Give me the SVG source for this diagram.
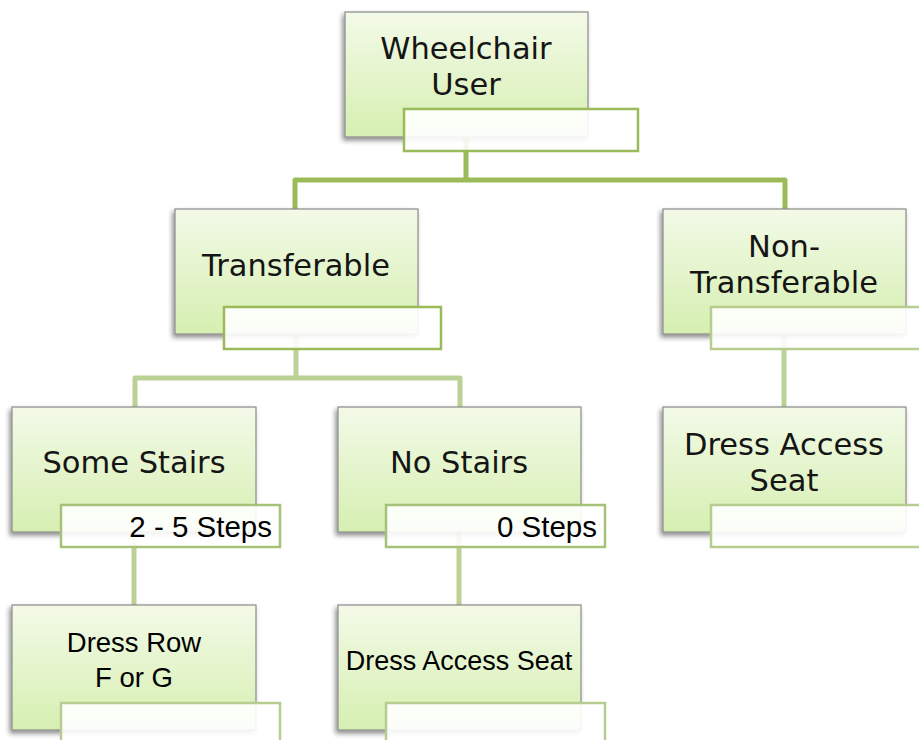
<svg xmlns="http://www.w3.org/2000/svg" width="919" height="740" viewBox="0 0 919 740">
<defs>
<linearGradient id="g" x1="0" y1="0" x2="0" y2="1">
<stop offset="0" stop-color="#F3FAE8"/>
<stop offset="1" stop-color="#D6EFB1"/>
</linearGradient>
<filter id="sh" x="-10%" y="-10%" width="125%" height="130%">
<feGaussianBlur in="SourceAlpha" stdDeviation="2.5"/>
<feOffset dx="-2" dy="3" result="b"/>
<feComponentTransfer><feFuncA type="linear" slope="0.45"/></feComponentTransfer>
<feMerge><feMergeNode/><feMergeNode in="SourceGraphic"/></feMerge>
</filter>
</defs>
<style>
.node{fill:url(#g);stroke:#8a8a8a;stroke-width:1.2;filter:url(#sh)}
.lab{fill:#ffffff;fill-opacity:0.9;stroke:#9BBB59;stroke-width:2.5}
.lab2{fill:#ffffff;fill-opacity:0.9;stroke:#A6C278;stroke-width:2.5}
.lab3{fill:#ffffff;fill-opacity:0.9;stroke:#B6CD8F;stroke-width:2.5}
.t{font-family:"DejaVu Sans",sans-serif;font-size:30.5px;fill:#151515;text-anchor:middle}
.c{font-family:"Liberation Sans",Arial,sans-serif;fill:#000;}
.c1{stroke:#9BBB59;stroke-width:5;fill:none;stroke-linejoin:round}
.c2{stroke:#BCD196;stroke-width:5;fill:none;stroke-linejoin:round}
</style>
<g id="connectors">
<path class="c1" d="M466 137 V180 M295 210 V180 H785 V210"/>
<path class="c2" d="M296 334 V378 M135 407 V378 H460 V407"/>
<path class="c2" d="M784 334 V407"/>
<path class="c2" d="M134 532 V605"/>
<path class="c2" d="M459 532 V605"/>
</g>
<g id="wheelchair-user">
<rect class="node" x="345" y="12" width="243" height="125"/>
<text class="t" x="466" y="59">Wheelchair</text>
<text class="t" x="466" y="95">User</text>
<rect class="lab" x="404" y="109" width="234" height="42"/>
</g>
<g id="transferable">
<rect class="node" x="175" y="209" width="243" height="125"/>
<text class="t" x="296" y="276">Transferable</text>
<rect class="lab" x="224" y="307" width="217" height="42"/>
</g>
<g id="non-transferable">
<rect class="node" x="663" y="209" width="243" height="125"/>
<text class="t" x="784" y="257">Non-</text>
<text class="t" x="784" y="293">Transferable</text>
<rect class="lab3" x="711" y="307" width="215" height="42"/>
</g>
<g id="some-stairs">
<rect class="node" x="12" y="407" width="244" height="125"/>
<text class="t" x="134" y="473">Some Stairs</text>
<rect class="lab2" x="61" y="505" width="219" height="42"/>
<text class="c" x="272" y="537" font-size="29.5" text-anchor="end">2 - 5 Steps</text>
</g>
<g id="no-stairs">
<rect class="node" x="338" y="407" width="243" height="125"/>
<text class="t" x="459" y="473">No Stairs</text>
<rect class="lab2" x="386" y="505" width="219" height="42"/>
<text class="c" x="597" y="537" font-size="29.5" text-anchor="end">0 Steps</text>
</g>
<g id="dress-access-seat-right">
<rect class="node" x="663" y="407" width="243" height="125"/>
<text class="t" x="784" y="455">Dress Access</text>
<text class="t" x="784" y="491">Seat</text>
<rect class="lab3" x="711" y="505" width="215" height="42"/>
</g>
<g id="dress-row">
<rect class="node" x="12" y="605" width="244" height="125"/>
<text class="c" x="134" y="652" font-size="27.5" text-anchor="middle">Dress Row</text>
<text class="c" x="134" y="687" font-size="27.5" text-anchor="middle">F or G</text>
<rect class="lab3" x="61" y="703" width="219" height="45"/>
</g>
<g id="dress-access-seat-mid">
<rect class="node" x="338" y="605" width="243" height="125"/>
<text class="c" x="459" y="670" font-size="27" text-anchor="middle">Dress Access Seat</text>
<rect class="lab3" x="386" y="703" width="219" height="45"/>
</g>
</svg>
